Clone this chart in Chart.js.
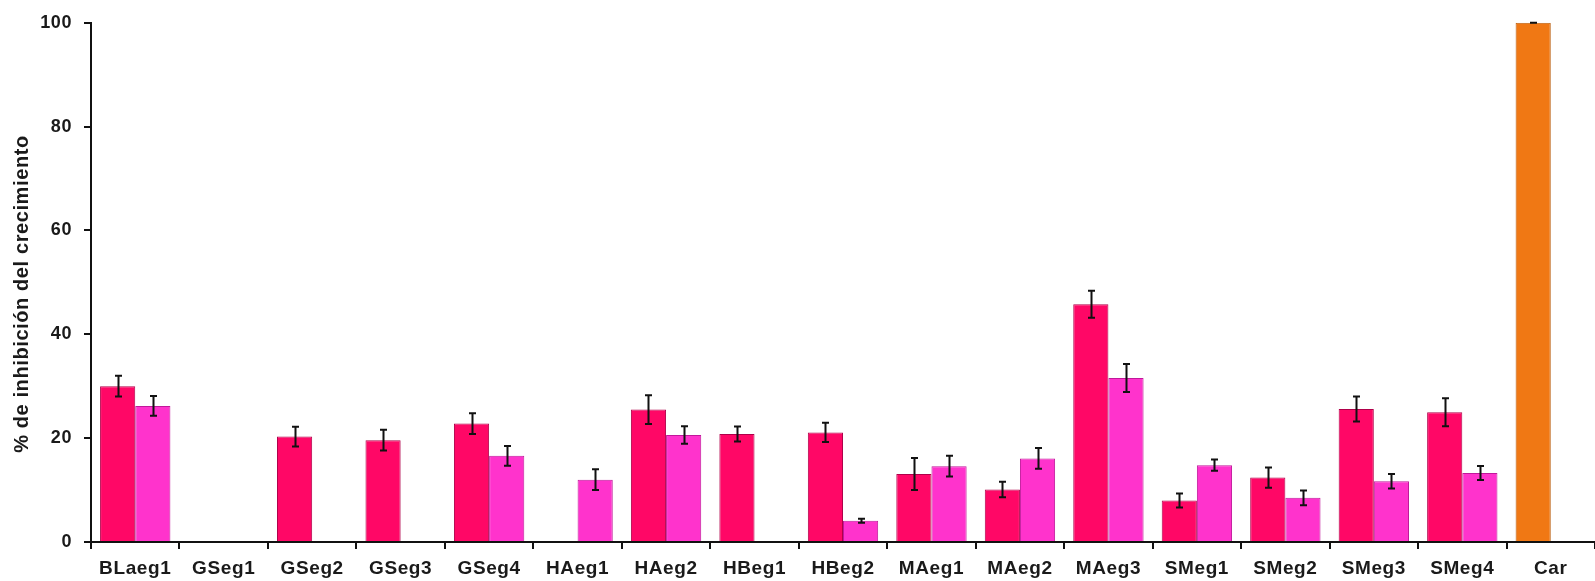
<!DOCTYPE html>
<html lang="es">
<head>
<meta charset="utf-8">
<title>% de inhibición del crecimiento</title>
<script src="https://cdn.jsdelivr.net/npm/chart.js@4.4.1/dist/chart.umd.min.js"></script>
<style>
  html, body { margin: 0; padding: 0; background: #ffffff; }
  #wrap { width: 1595px; height: 581px; }
</style>
</head>
<body>
<div id="wrap"><canvas id="chart" width="1595" height="581"></canvas></div>
<script>
// Extracts on the x axis
const categories = ['BLaeg1', 'GSeg1', 'GSeg2', 'GSeg3', 'GSeg4', 'HAeg1', 'HAeg2', 'HBeg1',
  'HBeg2', 'MAeg1', 'MAeg2', 'MAeg3', 'SMeg1', 'SMeg2', 'SMeg3', 'SMeg4', 'Car'];

// First series (the last entry, Car, is the reference control)
const serie1 = [30.0, null, 20.3, 19.6, 22.8, null, 25.5, 20.8, 21.1, 13.1, 10.1, 45.8, 8.0, 12.4, 25.6, 25.0, 100];
const serie1Err = [2.0, 0, 1.9, 2.0, 2.0, 0, 2.75, 1.45, 1.85, 3.1, 1.5, 2.6, 1.35, 1.95, 2.4, 2.7, 0];

// Second series
const serie2 = [26.2, null, null, null, 16.6, 12.0, 20.6, null, 4.1, 14.6, 16.1, 31.6, 14.8, 8.5, 11.7, 13.3, null];
const serie2Err = [1.9, 0, 0, 0, 1.9, 2.0, 1.7, 0, 0.4, 2.0, 2.0, 2.7, 1.1, 1.4, 1.4, 1.35, 0];

// Y axis range and title
const yMin = 0;
const yMax = 100;
const yStep = 20;
const yTitle = '% de inhibición del crecimiento';

const FONT = '"Liberation Sans", Arial, Helvetica, sans-serif';

// Bar colours: Car is drawn in orange
const fill1 = categories.map(c => c === 'Car' ? '#F07814' : '#FF0766');
const edge1 = categories.map(c => c === 'Car' ? '#B85A08' : '#B0004A');

// Slightly wider text spacing for every label on the canvas
const textSpacing = {
  id: 'textSpacing',
  beforeInit(chart) { chart.ctx.letterSpacing = '0.6px'; },
  beforeDraw(chart) { chart.ctx.letterSpacing = '0.6px'; }
};

// Rotated y axis title, drawn beside the tick labels
const axisTitle = {
  id: 'axisTitle',
  afterDraw(chart) {
    const ctx = chart.ctx;
    ctx.save();
    ctx.translate(22, 294);
    ctx.rotate(-Math.PI / 2);
    ctx.font = 'bold 20px ' + FONT;
    ctx.fillStyle = '#1a1a1a';
    ctx.textAlign = 'center';
    ctx.textBaseline = 'middle';
    ctx.fillText(yTitle, 0, 0);
    ctx.restore();
  }
};

// Draws the ± error bars from the error arrays through the value scale
const errorBars = {
  id: 'errorBars',
  afterDatasetsDraw(chart) {
    const ctx = chart.ctx;
    const y = chart.scales.y;
    ctx.save();
    ctx.strokeStyle = '#111111';
    ctx.lineWidth = 2;
    chart.data.datasets.forEach((ds, di) => {
      const meta = chart.getDatasetMeta(di);
      meta.data.forEach((bar, i) => {
        const v = ds.data[i];
        if (v === null || v === undefined) return;
        const e = ds.errors[i] || 0;
        const top = y.getPixelForValue(v + e);
        const bot = y.getPixelForValue(v - e);
        const x = Math.round(bar.x) + 0.5;
        const cap = 3.5;
        ctx.beginPath();
        ctx.moveTo(x, top); ctx.lineTo(x, bot);
        ctx.moveTo(x - cap, top); ctx.lineTo(x + cap, top);
        ctx.moveTo(x - cap, bot); ctx.lineTo(x + cap, bot);
        ctx.stroke();
      });
    });
    ctx.restore();
  }
};

new Chart(document.getElementById('chart'), {
  type: 'bar',
  data: {
    labels: categories,
    datasets: [
      {
        label: 'Serie 1',
        data: serie1,
        errors: serie1Err,
        backgroundColor: fill1,
        borderColor: edge1,
        borderWidth: 1
      },
      {
        label: 'Serie 2',
        data: serie2,
        errors: serie2Err,
        backgroundColor: '#FF33CC',
        borderColor: '#C0189A',
        borderWidth: 1
      }
    ]
  },
  options: {
    responsive: false,
    animation: false,
    devicePixelRatio: 1,
    layout: { padding: { top: 19, right: 0, bottom: 0, left: 0 } },
    categoryPercentage: 0.795,
    barPercentage: 1.0,
    plugins: {
      legend: { display: false },
      tooltip: { enabled: false },
      title: { display: false }
    },
    scales: {
      x: {
        offset: true,
        grid: {
          offset: true,
          drawOnChartArea: false,
          drawTicks: true,
          tickLength: 7,
          color: '#111111',
          lineWidth: 2
        },
        border: { display: true, color: '#111111', width: 2 },
        ticks: {
          color: '#1a1a1a',
          padding: 8,
          maxRotation: 0,
          autoSkip: false,
          font: { family: FONT, size: 19, weight: 'bold' }
        },
        afterFit(scale) { scale.height = 39; }
      },
      y: {
        min: yMin,
        max: yMax,
        grid: {
          drawOnChartArea: false,
          drawTicks: true,
          tickLength: 7,
          color: '#111111',
          lineWidth: 2
        },
        border: { display: true, color: '#111111', width: 2 },
        ticks: {
          stepSize: yStep,
          color: '#1a1a1a',
          padding: 12,
          font: { family: FONT, size: 18, weight: 'bold' }
        },
        title: { display: false },
        afterFit(scale) { scale.width = 91; }
      }
    }
  },
  plugins: [textSpacing, errorBars, axisTitle]
});
</script>
</body>
</html>
